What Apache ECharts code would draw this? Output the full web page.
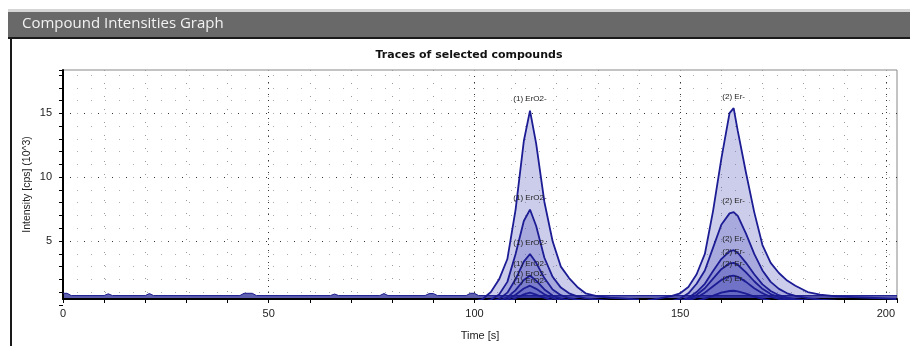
<!DOCTYPE html>
<html>
<head>
<meta charset="utf-8">
<script src="https://cdn.jsdelivr.net/npm/echarts@6/dist/echarts.min.js"></script>
<style>
html, body { margin: 0; padding: 0; background: #fff; }
#chart { width: 910px; height: 346px; }
</style>
</head>
<body>
<div id="chart"></div>
<script>
// tick labels
const xLabels = [0, 50, 100, 150, 200];
const yLabels = [5, 10, 15];

// compound 1 traces (ErO2-), time in s, intensity in 10^3 cps
const c1Times = [98, 100, 102, 104, 106, 108, 110, 112, 113.5, 115, 117, 119, 121, 123, 125, 127, 130, 133, 136, 140];
const c1Trace1 = [0.05, 0.15, 0.35, 0.9, 1.9, 3.5, 7.4, 12.8, 15.2, 12.6, 8.0, 4.9, 2.9, 2.0, 1.3, 0.8, 0.55, 0.45, 0.4, 0.3];
const c1Trace2 = [0.01, 0.04, 0.1, 0.3, 0.7, 1.7, 3.9, 6.5, 7.4, 6.1, 3.6, 2.1, 1.25, 0.8, 0.55, 0.4, 0.3, 0.2, 0.12, 0.05];
const c1Trace3 = [0, 0.02, 0.05, 0.14, 0.35, 0.85, 1.9, 3.3, 3.9, 3.2, 2.0, 1.1, 0.65, 0.42, 0.3, 0.22, 0.15, 0.1, 0.07, 0.03];
const c1Trace4 = [0, 0.01, 0.03, 0.08, 0.2, 0.48, 1.05, 1.85, 2.2, 1.8, 1.1, 0.62, 0.38, 0.25, 0.17, 0.12, 0.08, 0.06, 0.04, 0.02];
const c1Trace5 = [0, 0.01, 0.02, 0.05, 0.12, 0.3, 0.68, 1.18, 1.4, 1.15, 0.72, 0.42, 0.25, 0.16, 0.11, 0.08, 0.05, 0.04, 0.03, 0.01];
const c1Trace6 = [0, 0, 0.01, 0.03, 0.07, 0.17, 0.41, 0.71, 0.85, 0.7, 0.43, 0.25, 0.15, 0.1, 0.07, 0.05, 0.03, 0.02, 0.02, 0.01];

// compound 2 traces (Er-)
const c2Times = [142, 145, 148, 150, 152, 154, 156, 158, 160, 162, 163, 164, 166, 168, 170, 172, 174, 176, 178, 181, 184, 188, 192, 196, 200, 202.5];
const c2Trace1 = [0.25, 0.4, 0.6, 0.8, 1.3, 2.3, 3.9, 7.3, 11.4, 15.0, 15.4, 13.6, 10.3, 7.2, 4.6, 3.2, 2.4, 1.8, 1.4, 0.9, 0.7, 0.55, 0.5, 0.45, 0.4, 0.35];
const c2Trace2 = [0.02, 0.08, 0.2, 0.38, 0.8, 1.55, 2.6, 4.4, 6.2, 7.1, 7.2, 6.9, 5.5, 3.9, 2.6, 1.7, 1.15, 0.8, 0.6, 0.42, 0.3, 0.22, 0.16, 0.13, 0.1, 0.08];
const c2Trace3 = [0.01, 0.04, 0.1, 0.2, 0.45, 0.9, 1.55, 2.55, 3.5, 4.1, 4.2, 4.0, 3.2, 2.3, 1.5, 0.98, 0.65, 0.46, 0.34, 0.24, 0.17, 0.12, 0.09, 0.07, 0.06, 0.05];
const c2Trace4 = [0, 0.03, 0.07, 0.14, 0.33, 0.68, 1.2, 1.95, 2.7, 3.15, 3.2, 3.05, 2.45, 1.75, 1.15, 0.74, 0.5, 0.36, 0.26, 0.18, 0.13, 0.09, 0.07, 0.05, 0.04, 0.03];
const c2Trace5 = [0, 0.02, 0.05, 0.1, 0.22, 0.47, 0.85, 1.35, 1.85, 2.15, 2.2, 2.1, 1.7, 1.2, 0.8, 0.52, 0.35, 0.25, 0.18, 0.12, 0.08, 0.06, 0.05, 0.04, 0.03, 0.02];
const c2Trace6 = [0, 0, 0.02, 0.04, 0.09, 0.2, 0.38, 0.61, 0.85, 0.98, 1.0, 0.95, 0.77, 0.54, 0.36, 0.23, 0.16, 0.11, 0.08, 0.06, 0.04, 0.03, 0.02, 0.02, 0.01, 0.01];

// baseline noise
const baseTimes = [0, 1, 2, 10, 11, 12, 20, 21, 22, 43, 44, 46, 47, 65, 66, 67, 77, 78, 79, 88, 89, 90, 91, 98, 99, 100, 101, 202.7];
const baseValues = [0.8, 0.8, 0.62, 0.62, 0.76, 0.62, 0.62, 0.78, 0.62, 0.62, 0.8, 0.8, 0.62, 0.62, 0.74, 0.62, 0.62, 0.78, 0.62, 0.62, 0.78, 0.78, 0.62, 0.62, 0.8, 0.8, 0.62, 0.62];

const c1Name = "(1) ErO2-";
const c2Name = "(2) Er-";

const lineColor = "#1c1c94";
const fillColor = "rgba(80,86,188,0.42)";

const chart = echarts.init(document.getElementById("chart"));

const traceSeries = (times, values, name) => ({
  type: "line",
  xAxisIndex: 0,
  yAxisIndex: 0,
  symbol: "none",
  lineStyle: { color: lineColor, width: 1.8 },
  areaStyle: { color: fillColor },
  data: times.map((t, i) => [t, values[i]]),
  markPoint: {
    symbol: "circle",
    symbolSize: 1,
    silent: true,
    itemStyle: { color: "rgba(0,0,0,0)" },
    label: {
      show: true,
      position: "top",
      distance: 7,
      formatter: name,
      color: "#222",
      fontSize: 8,
      fontFamily: "Liberation Sans",
    },
    data: [{ type: "max" }],
  },
});

const series = [
  traceSeries(c1Times, c1Trace1, c1Name),
  traceSeries(c1Times, c1Trace2, c1Name),
  traceSeries(c1Times, c1Trace3, c1Name),
  traceSeries(c1Times, c1Trace4, c1Name),
  traceSeries(c1Times, c1Trace5, c1Name),
  traceSeries(c1Times, c1Trace6, c1Name),
  traceSeries(c2Times, c2Trace1, c2Name),
  traceSeries(c2Times, c2Trace2, c2Name),
  traceSeries(c2Times, c2Trace3, c2Name),
  traceSeries(c2Times, c2Trace4, c2Name),
  traceSeries(c2Times, c2Trace5, c2Name),
  traceSeries(c2Times, c2Trace6, c2Name),
  {
    type: "line",
    xAxisIndex: 0,
    yAxisIndex: 0,
    symbol: "none",
    lineStyle: { color: "#1a1a8c", width: 1 },
    areaStyle: { color: "#1a1a8c" },
    data: baseTimes.map((t, i) => [t, baseValues[i]]),
  },
];

const labelFont = { color: "#222", fontSize: 11, fontFamily: "Liberation Sans" };

const option = {
  animation: false,
  backgroundColor: "#fff",
  title: {
    text: "Traces of selected compounds",
    left: 464,
    top: 45,
    textAlign: "center",
    textStyle: { fontSize: 11, fontWeight: "bold", color: "#111", fontFamily: "DejaVu Sans" },
  },
  graphic: [
    { type: "rect", shape: { x: 8, y: 9, width: 902, height: 3 }, style: { fill: "#d6d6d6" } },
    { type: "rect", shape: { x: 8, y: 12, width: 902, height: 25 }, style: { fill: "#696969" } },
    { type: "rect", shape: { x: 8, y: 37, width: 902, height: 2 }, style: { fill: "#1a1a1a" } },
    { type: "rect", shape: { x: 10, y: 37, width: 2, height: 309 }, style: { fill: "#1a1a1a" } },
    {
      type: "text",
      left: 22,
      top: 16,
      style: { text: "Compound Intensities Graph", fill: "#f2f2f2", font: "15px 'Open Sans'" },
    },
  ],
  grid: [
    { left: 63, right: 13, top: 70, bottom: 46, show: true, borderColor: "#888", borderWidth: 1 },
    { left: 63, right: 13, top: 70, bottom: 41.2 },
  ],
  xAxis: [
    {
      gridIndex: 0,
      type: "value",
      position: "bottom",
      min: 0,
      max: 202.7,
      interval: 50,
      z: 3,
      axisLine: { show: true, onZero: false, lineStyle: { color: "#000", width: 2 } },
      axisTick: { show: false },
      axisLabel: { formatter: (v) => (xLabels.includes(v) ? String(v) : ""), margin: 9, ...labelFont },
      splitLine: { show: true, showMinLine: false, showMaxLine: false, lineStyle: { color: "#333", type: [1, 5] } },
      name: "Time [s]",
      nameLocation: "middle",
      nameGap: 31,
      nameTextStyle: labelFont,
    },
    {
      gridIndex: 0,
      type: "value",
      position: "bottom",
      min: 0,
      max: 202.7,
      interval: 10,
      z: 3,
      axisLine: { show: false, onZero: false },
      axisTick: { show: true, length: 4, lineStyle: { color: "#000" } },
      axisLabel: { show: false },
      splitLine: { show: true, showMinLine: false, showMaxLine: false, lineStyle: { color: "#999", type: [1, 12] } },
    },
    { gridIndex: 1, type: "value", min: 0, max: 202.7, show: false },
  ],
  yAxis: [
    {
      gridIndex: 0,
      type: "value",
      position: "left",
      min: 0.35,
      max: 18.4,
      z: 3,
      axisLine: { show: true, lineStyle: { color: "#000", width: 2 } },
      axisTick: { show: false },
      axisLabel: { show: false },
      splitLine: { show: false },
      name: "Intensity [cps] (10^3)",
      nameLocation: "middle",
      nameRotate: 90,
      nameGap: 30,
      nameTextStyle: { ...labelFont, fontSize: 10.5 },
    },
    {
      gridIndex: 1,
      type: "value",
      position: "left",
      min: 0,
      max: 18.4,
      interval: 5,
      z: 3,
      axisLine: { show: false },
      axisTick: { show: false },
      axisLabel: { formatter: (v) => (yLabels.includes(v) ? String(v) : ""), margin: 11, ...labelFont },
      splitLine: { show: true, showMinLine: false, showMaxLine: false, lineStyle: { color: "#333", type: [1, 6] } },
    },
    {
      gridIndex: 1,
      type: "value",
      position: "left",
      offset: 0,
      min: 0,
      max: 18.4,
      interval: 1,
      z: 3,
      axisLine: { show: false },
      axisTick: { show: true, length: 4, lineStyle: { color: "#000" } },
      axisLabel: { show: false },
      splitLine: { show: true, showMinLine: false, showMaxLine: false, lineStyle: { color: "#aaa", type: [1, 13] } },
    },
  ],
  series: series,
};

chart.setOption(option);
</script>
</body>
</html>
